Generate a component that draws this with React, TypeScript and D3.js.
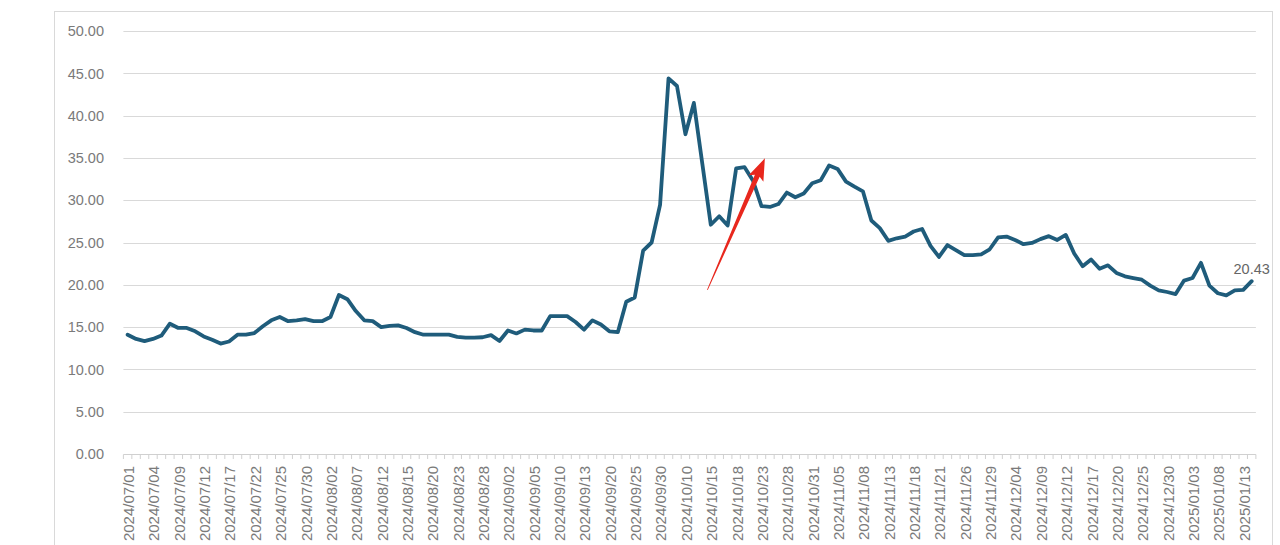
import React, { useEffect, useRef } from "react";
import * as d3 from "d3";

// trading days, grouped by month
const jul24 = [1, 2, 3, 4, 5, 8, 9, 10, 11, 12, 15, 16, 17, 18, 19, 22, 23, 24, 25, 26, 29, 30, 31];
const aug24 = [1, 2, 5, 6, 7, 8, 9, 12, 13, 14, 15, 16, 19, 20, 21, 22, 23, 26, 27, 28, 29, 30];
const sep24 = [2, 3, 4, 5, 6, 9, 10, 11, 12, 13, 18, 19, 20, 23, 24, 25, 26, 27, 30];
const oct24 = [8, 9, 10, 11, 14, 15, 16, 17, 18, 21, 22, 23, 24, 25, 28, 29, 30, 31];
const nov24 = [1, 4, 5, 6, 7, 8, 11, 12, 13, 14, 15, 18, 19, 20, 21, 22, 25, 26, 27, 28, 29];
const dec24 = [2, 3, 4, 5, 6, 9, 10, 11, 12, 13, 16, 17, 18, 19, 20, 23, 24, 25, 26, 27, 30, 31];
const jan25 = [2, 3, 6, 7, 8, 9, 10, 13, 14];

const months: [string, number[]][] = [
  ["2024/07", jul24],
  ["2024/08", aug24],
  ["2024/09", sep24],
  ["2024/10", oct24],
  ["2024/11", nov24],
  ["2024/12", dec24],
  ["2025/01", jan25],
];
const dates = months.flatMap(([m, days]) => days.map((d) => `${m}/${String(d).padStart(2, "0")}`));

const values = [
  14.1, 13.6, 13.35, 13.6, 14.0, 15.4, 14.9, 14.9, 14.5, 13.9,
  13.5, 13.05, 13.3, 14.1, 14.1, 14.3, 15.1, 15.8, 16.2, 15.7,
  15.8, 15.95, 15.7, 15.7, 16.2, 18.8, 18.3, 16.9, 15.8, 15.7,
  15.0, 15.15, 15.2, 14.9, 14.4, 14.1, 14.1, 14.1, 14.1, 13.85,
  13.75, 13.75, 13.8, 14.05, 13.35, 14.6, 14.25, 14.7, 14.6, 14.6,
  16.3, 16.3, 16.3, 15.6, 14.7, 15.8, 15.3, 14.5, 14.4, 18.0,
  18.5, 24.05, 25.0, 29.45, 44.4, 43.5, 37.8, 41.5, 34.3, 27.1,
  28.1, 27.0, 33.75, 33.9, 32.3, 29.3, 29.2, 29.55, 30.9, 30.35,
  30.8, 32.0, 32.35, 34.1, 33.7, 32.2, 31.6, 31.05, 27.6, 26.7,
  25.2, 25.5, 25.7, 26.3, 26.6, 24.6, 23.3, 24.7, 24.1, 23.5,
  23.5, 23.6, 24.2, 25.6, 25.7, 25.3, 24.8, 24.95, 25.4, 25.75,
  25.3, 25.9, 23.7, 22.2, 23.0, 21.9, 22.3, 21.4, 21.0, 20.8,
  20.6, 19.9, 19.35, 19.15, 18.9, 20.5, 20.8, 22.6, 19.9, 19.0,
  18.75, 19.35, 19.4, 20.43,
];

const yTicks = [0, 5, 10, 15, 20, 25, 30, 35, 40, 45, 50];

// arrow annotation, in (category index, value)
const arrowTail = [68.6, 19.4];
const arrowTip = [75.4, 34.95];

const FONT = "'Liberation Sans', Arial, sans-serif";
const LINE = "#1f5c7b";

export default function App() {
  const svgRef = useRef<SVGSVGElement>(null);

  useEffect(() => {
    if (!svgRef.current) return;
    const width = 1280;
    const height = 545;
    const svg = d3.select(svgRef.current).attr("width", width).attr("height", height);
    svg.selectAll("*").remove();

    const left = 123.4;
    const right = 1255.9;
    const x = d3.scalePoint<string>().domain(dates).range([left, right]).padding(0.5);
    const y = d3.scaleLinear().domain([0, 50]).range([454, 31]);

    svg.append("rect").attr("width", width).attr("height", height).attr("fill", "#fff");

    // chart area border
    svg
      .append("rect")
      .attr("x", 54.5)
      .attr("y", 11.5)
      .attr("width", 1218)
      .attr("height", 560)
      .attr("fill", "none")
      .attr("stroke", "#d9d9d9");

    // gridlines + y labels
    svg
      .append("g")
      .selectAll("line")
      .data(yTicks.filter((t) => t > 0))
      .join("line")
      .attr("x1", left)
      .attr("x2", right)
      .attr("y1", (d) => Math.round(y(d)) + 0.5)
      .attr("y2", (d) => Math.round(y(d)) + 0.5)
      .attr("stroke", "#d9d9d9")
      .attr("stroke-width", 1);

    svg
      .append("g")
      .selectAll("text")
      .data(yTicks)
      .join("text")
      .attr("x", 104)
      .attr("y", (d) => y(d))
      .attr("dy", "0.36em")
      .attr("text-anchor", "end")
      .attr("font-family", FONT)
      .attr("font-size", 14.5)
      .attr("fill", "#7a7a7a")
      .text((d) => d.toFixed(2));

    // x axis line and category ticks
    const step = x.step();
    svg
      .append("line")
      .attr("x1", left)
      .attr("x2", right)
      .attr("y1", 454.5)
      .attr("y2", 454.5)
      .attr("stroke", "#d0d0d0");
    svg
      .append("g")
      .selectAll("line")
      .data(d3.range(dates.length + 1))
      .join("line")
      .attr("x1", (i) => left + i * step)
      .attr("x2", (i) => left + i * step)
      .attr("y1", 454.5)
      .attr("y2", 459)
      .attr("stroke", "#d0d0d0");

    svg
      .append("g")
      .selectAll("text")
      .data(dates.filter((_, i) => i % 3 === 0))
      .join("text")
      .attr("transform", (d) => `translate(${(x(d) as number) + 1},466) rotate(-90)`)
      .attr("dy", "0.36em")
      .attr("text-anchor", "end")
      .attr("font-family", FONT)
      .attr("font-size", 15)
      .attr("fill", "#7a7a7a")
      .text((d) => d);

    // series
    const line = d3
      .line<number>()
      .x((_, i) => x(dates[i]) as number)
      .y((d) => y(d));
    svg
      .append("path")
      .datum(values)
      .attr("d", line)
      .attr("fill", "none")
      .attr("stroke", LINE)
      .attr("stroke-width", 3.8)
      .attr("stroke-linejoin", "round")
      .attr("stroke-linecap", "round");

    // last value label
    const last = values.length - 1;
    svg
      .append("text")
      .attr("x", x(dates[last]) as number)
      .attr("y", y(values[last]) - 7)
      .attr("text-anchor", "middle")
      .attr("font-family", FONT)
      .attr("font-size", 14.5)
      .attr("fill", "#666")
      .text(values[last].toFixed(2));

    // red arrow
    const px = (i: number) => left + step * (i + 0.5);
    const tx = px(arrowTail[0]);
    const ty = y(arrowTail[1]);
    const hx = px(arrowTip[0]);
    const hy = y(arrowTip[1]);
    const L = Math.hypot(hx - tx, hy - ty);
    const ux = (hx - tx) / L;
    const uy = (hy - ty) / L;
    const nx = -uy;
    const ny = ux;
    const bx = hx - ux * 22;
    const by = hy - uy * 22;
    const pts: [number, number][] = [
      [tx + nx * 0.4, ty + ny * 0.4],
      [bx + ux * 3 + nx * 2.6, by + uy * 3 + ny * 2.6],
      [bx + nx * 8, by + ny * 8],
      [hx, hy],
      [bx - nx * 8, by - ny * 8],
      [bx + ux * 3 - nx * 2.6, by + uy * 3 - ny * 2.6],
      [tx - nx * 0.4, ty - ny * 0.4],
    ];
    svg
      .append("polygon")
      .attr("points", pts.map((p) => p.join(",")).join(" "))
      .attr("fill", "#e8271d");
  }, []);

  return (
    <div style={{ position: "absolute", left: 0, top: 0, width: 1280, height: 545, overflow: "hidden", background: "#fff" }}>
      <svg ref={svgRef} style={{ display: "block" }} />
    </div>
  );
}
